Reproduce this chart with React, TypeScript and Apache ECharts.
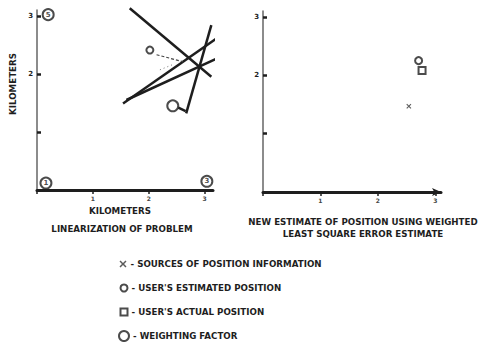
import React, { useEffect, useRef } from "react";
import * as echarts from "echarts";

// Weighted sources (x km, y km, weight) drawn as circles in the linearization plot
const weightCircles: [number, number, string][] = [
  [0.2, 3.02, "5"],
  [0.16, 0.12, "1"],
  [3.04, 0.15, "3"],
  [2.43, 1.45, ""],
];

// Lines of position (start, end) in km
const positionLines: [number, number][][] = [
  [[1.66, 3.13], [3.12, 1.95]],
  [[1.54, 1.49], [3.3, 2.67]],
  [[1.6, 1.55], [3.3, 2.3]],
  [[3.12, 2.84], [2.67, 1.32]],
  [[2.53, 1.42], [2.66, 1.36]],
];

// Initial estimate and its residual guides
const initialEstimate: [number, number][] = [[2.02, 2.41]];
const dashedGuide: [number, number][] = [[2.14, 2.33], [2.61, 2.21]];
const dottedGuide: [number, number][] = [[2.2, 2.07], [2.43, 2.16]];

// Weighted least-square result
const sourcePoints: [number, number][] = [[2.54, 1.47]];
const estimatedPosition: [number, number][] = [[2.71, 2.25]];
const actualPosition: [number, number][] = [[2.77, 2.08]];

const xTickLabels = ["1", "2", "3"];
const yTickLabels = ["2", "3"];

const INK = "#1e1e1e";
const FONT = "DejaVu Sans";
const FONT_SIZE = 8.7;
const X_ICON =
  "path://M0,1.5L1.5,0L5,3.5L8.5,0L10,1.5L6.5,5L10,8.5L8.5,10L5,6.5L1.5,10L0,8.5L3.5,5Z";

const NAMES = {
  src: "SOURCES OF POSITION INFORMATION",
  est: "USER'S ESTIMATED POSITION",
  act: "USER'S ACTUAL POSITION",
  wt: "WEIGHTING FACTOR",
};

// One legend row per key entry, stacked down the bottom of the figure
const legendRows = [
  { name: NAMES.src, icon: X_ICON, size: 7 },
  { name: NAMES.est, icon: "emptyCircle", size: 7 },
  { name: NAMES.act, icon: "emptyRect", size: 7 },
  { name: NAMES.wt, icon: "emptyCircle", size: 10 },
];
const legendRowCenters = [264, 288, 312, 336];

function xAxisFor(gridIndex: number, withArrow: boolean) {
  return {
    type: "value",
    gridIndex,
    min: 0,
    max: gridIndex === 0 ? 3.15 : 3.1,
    interval: 1,
    splitLine: { show: false },
    axisLine: {
      show: true,
      symbol: withArrow ? ["none", "arrow"] : ["none", "none"],
      symbolSize: [6, 9],
      lineStyle: { color: INK, width: 3 },
    },
    axisTick: { show: true, length: 4, lineStyle: { color: INK, width: 1.5 } },
    axisLabel: {
      margin: 5,
      fontSize: 6,
      fontFamily: FONT,
      fontWeight: "bold",
      color: "#444",
      showMaxLabel: false,
      formatter: (v: number) => (xTickLabels.includes(String(v)) ? String(v) : ""),
    },
  };
}

function yAxisFor(gridIndex: number) {
  return {
    type: "value",
    gridIndex,
    min: 0,
    max: 3.1,
    interval: 1,
    splitLine: { show: false },
    axisLine: { show: true, lineStyle: { color: "#666", width: 1.5 } },
    axisTick: { show: true, inside: true, length: 4, lineStyle: { color: INK, width: 2.5 } },
    axisLabel: {
      margin: 4,
      fontSize: 7,
      fontFamily: FONT,
      fontWeight: "bold",
      color: INK,
      showMaxLabel: false,
      formatter: (v: number) => (yTickLabels.includes(String(v)) ? String(v) : ""),
    },
  };
}

const textStyle = (x: number, y: number, text: string, extra: any = {}) => ({
  type: "text",
  x,
  y,
  style: {
    text,
    fill: INK,
    font: `bold ${FONT_SIZE}px "${FONT}"`,
    textAlign: "center",
    textVerticalAlign: "middle",
  },
  ...extra,
});

export default function App() {
  const ref = useRef<HTMLDivElement>(null);

  useEffect(() => {
    document.body.style.margin = "0";
    if (!ref.current) return;
    const chart = echarts.init(ref.current, null, { renderer: "svg" });

    const lineSeries = positionLines.map((seg) => ({
      type: "line",
      xAxisIndex: 0,
      yAxisIndex: 0,
      data: seg,
      showSymbol: false,
      clip: false,
      silent: true,
      lineStyle: { color: INK, width: 2.5 },
    }));

    const legends = legendRows.map((row, i) => ({
      orient: "horizontal",
      left: 123 - row.size / 2,
      top: legendRowCenters[i] - 6,
      padding: 0,
      itemWidth: row.size,
      itemHeight: row.size,
      selectedMode: false,
      formatter: (name: string) => "- " + name,
      textStyle: {
        fontSize: FONT_SIZE,
        lineHeight: 12,
        fontFamily: FONT,
        fontWeight: "bold",
        color: INK,
        padding: [0, 0, 0, -1],
      },
      data: [{ name: row.name, icon: row.icon }],
    }));

    chart.setOption({
      animation: false,
      backgroundColor: "#ffffff",
      grid: [
        { left: 37, top: 10, width: 176, height: 180, outerBoundsMode: "none" },
        { left: 263, top: 11, width: 178, height: 181, outerBoundsMode: "none" },
      ],
      xAxis: [xAxisFor(0, false), xAxisFor(1, true)],
      yAxis: [yAxisFor(0), yAxisFor(1)],
      legend: legends,
      graphic: [
        textStyle(13, 84, "KILOMETERS", { rotation: Math.PI / 2 }),
        textStyle(120, 211, "KILOMETERS"),
        textStyle(122, 229, "LINEARIZATION OF PROBLEM"),
        textStyle(363, 222, "NEW ESTIMATE OF POSITION USING WEIGHTED"),
        textStyle(363, 234, "LEAST SQUARE ERROR ESTIMATE"),
      ],
      series: [
        ...lineSeries,
        {
          type: "line",
          xAxisIndex: 0,
          yAxisIndex: 0,
          data: dashedGuide,
          showSymbol: false,
          clip: false,
          silent: true,
          lineStyle: { color: "#444", width: 1.2, type: [3, 2] },
        },
        {
          type: "line",
          xAxisIndex: 0,
          yAxisIndex: 0,
          data: dottedGuide,
          showSymbol: false,
          clip: false,
          silent: true,
          lineStyle: { color: "#777", width: 1, type: [1, 3] },
        },
        {
          name: NAMES.wt,
          type: "scatter",
          xAxisIndex: 0,
          yAxisIndex: 0,
          symbol: "emptyCircle",
          symbolSize: 11,
          clip: false,
          data: weightCircles,
          itemStyle: { color: INK, borderColor: INK, borderWidth: 2.4 },
          label: {
            show: true,
            position: "inside",
            formatter: (p: any) => p.value[2],
            fontSize: 7,
            fontFamily: FONT,
            fontWeight: "bold",
            color: INK,
          },
        },
        {
          name: NAMES.est,
          type: "scatter",
          xAxisIndex: 0,
          yAxisIndex: 0,
          symbol: "emptyCircle",
          symbolSize: 7,
          data: initialEstimate,
          itemStyle: { color: INK, borderColor: INK, borderWidth: 2 },
        },
        {
          name: NAMES.src,
          type: "scatter",
          xAxisIndex: 1,
          yAxisIndex: 1,
          symbol: X_ICON,
          symbolSize: 5,
          data: sourcePoints,
          itemStyle: { color: "#333" },
        },
        {
          name: NAMES.est,
          type: "scatter",
          xAxisIndex: 1,
          yAxisIndex: 1,
          symbol: "emptyCircle",
          symbolSize: 7,
          data: estimatedPosition,
          itemStyle: { color: INK, borderColor: INK, borderWidth: 1.8 },
        },
        {
          name: NAMES.act,
          type: "scatter",
          xAxisIndex: 1,
          yAxisIndex: 1,
          symbol: "emptyRect",
          symbolSize: 7,
          data: actualPosition,
          itemStyle: { color: INK, borderColor: INK, borderWidth: 1.8 },
        },
      ],
    });

    return () => chart.dispose();
  }, []);

  return <div ref={ref} style={{ width: 481, height: 342 }} />;
}
